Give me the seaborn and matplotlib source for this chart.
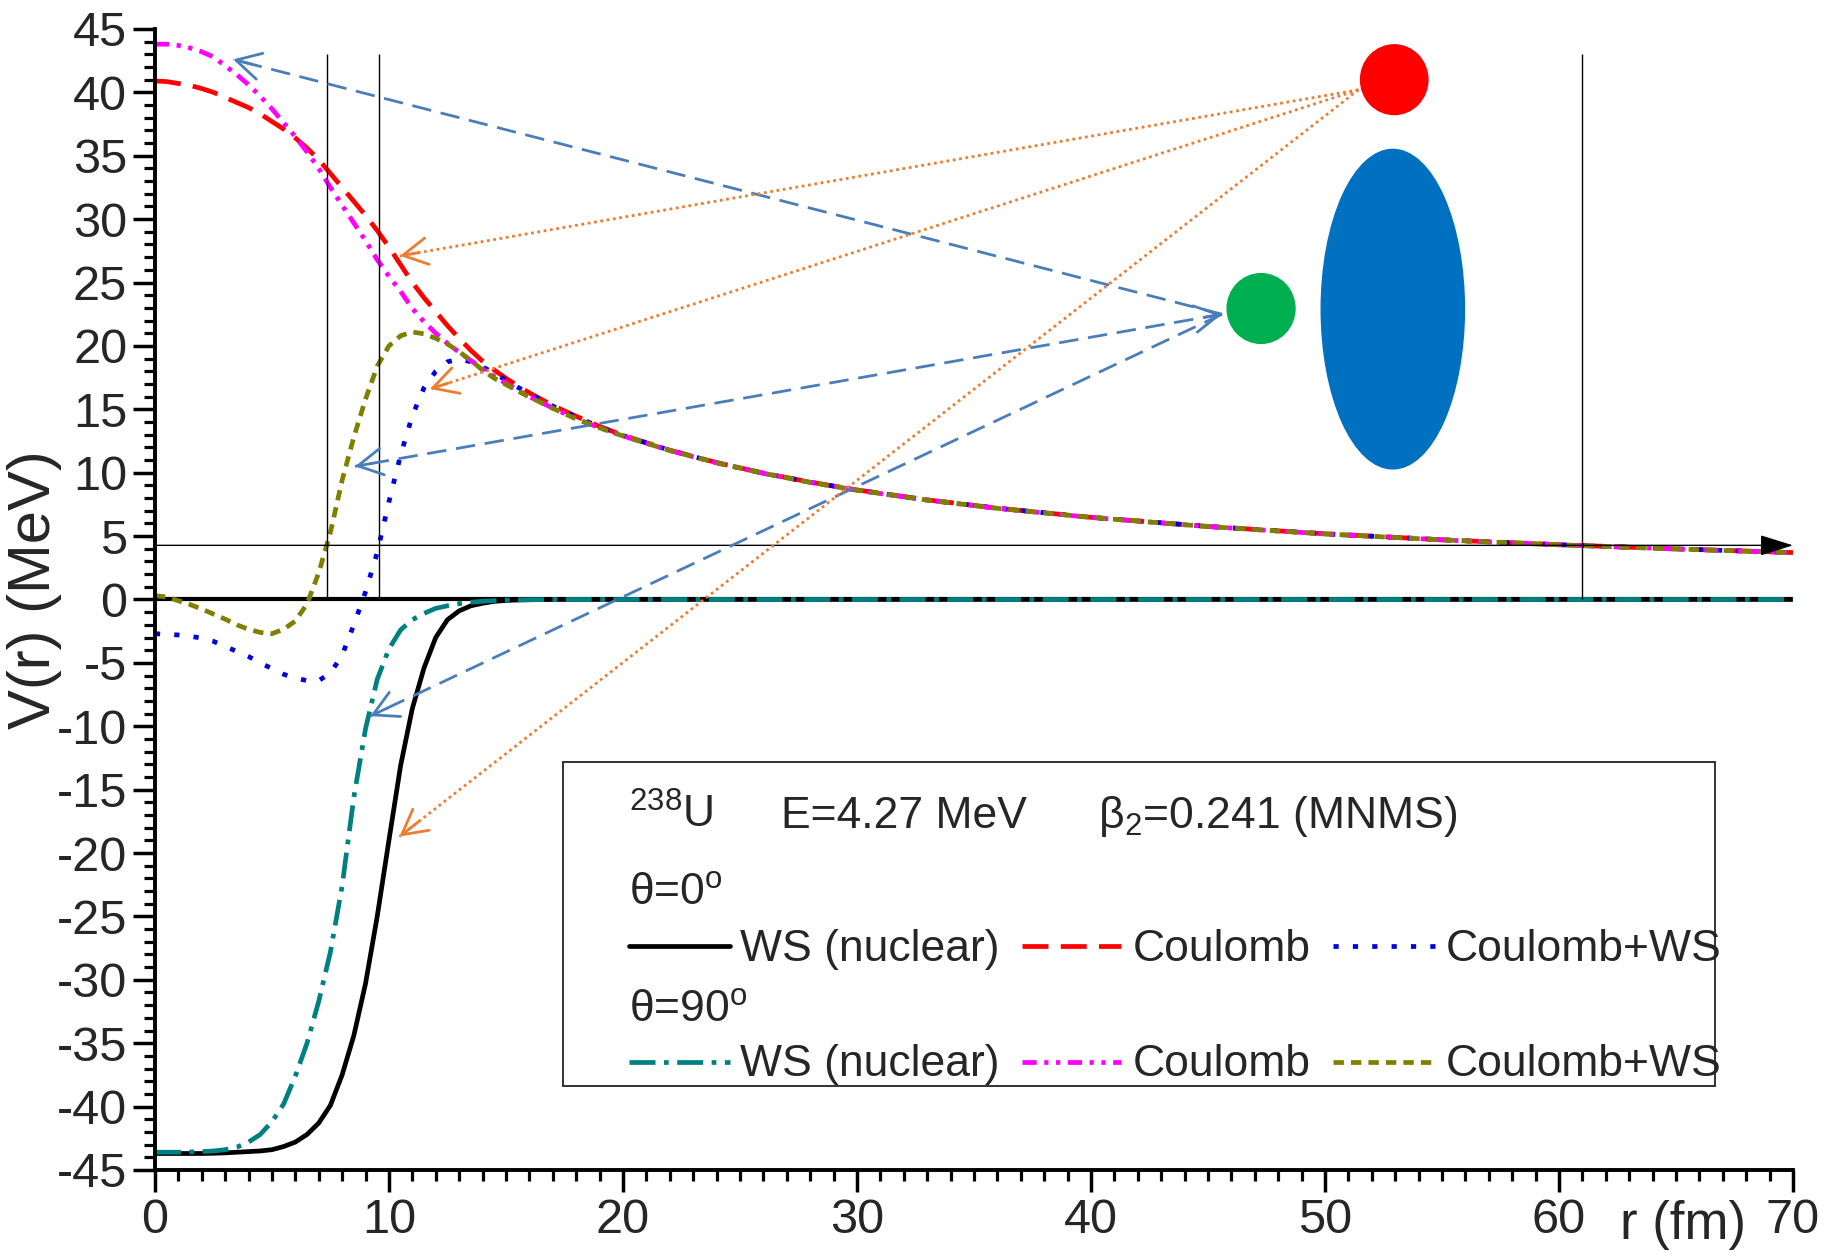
import matplotlib
matplotlib.use("Agg")
import matplotlib.pyplot as plt
import matplotlib.transforms as mtransforms
from matplotlib.patches import Ellipse, Rectangle
from matplotlib.lines import Line2D
from matplotlib.ticker import MultipleLocator
import seaborn as sns

# ---------------------------------------------------------------------------
# Radial grid (fm) and potentials (MeV) for alpha + daughter of 238U
# ---------------------------------------------------------------------------
r_fm = [0, 0.5, 1, 1.5, 2, 2.5, 3, 3.5, 4, 4.5, 5, 5.5, 6, 6.5, 7, 7.5, 8,
        8.5, 9, 9.5, 10, 10.5, 11, 11.5, 12, 12.5, 13, 13.5, 14, 14.5, 15,
        15.5, 16, 17, 18, 19, 20, 22, 24, 26, 28, 30, 33, 36, 40, 45, 50,
        55, 60, 65, 70]

# theta = 0 deg
ws_nuclear_0 = [-43.7, -43.7, -43.7, -43.7, -43.7, -43.68, -43.65, -43.6,
                -43.55, -43.5, -43.4, -43.15, -42.8, -42.2, -41.3, -39.9,
                -37.5, -34.4, -30.3, -25.0, -19.0, -13.1, -8.6, -5.4, -3.0,
                -1.6, -0.9, -0.5, -0.3, -0.15, -0.08, -0.04, -0.02,
                0, 0, 0, 0, 0, 0, 0, 0, 0, 0, 0, 0, 0, 0, 0, 0, 0, 0]
coulomb_0 = [40.9, 40.85, 40.7, 40.55, 40.3, 40.0, 39.6, 39.2, 38.8, 38.3,
             37.7, 37.1, 36.4, 35.6, 34.7, 33.6, 32.5, 31.4, 30.3, 29.1,
             27.8, 26.4, 25.0, 23.8, 22.7, 21.6, 20.6, 19.65, 18.8, 18.1,
             17.45, 16.85, 16.3, 15.3, 14.45, 13.65, 12.95, 11.78, 10.8,
             9.97, 9.26, 8.64, 7.86, 7.2, 6.48, 5.76, 5.18, 4.71, 4.32,
             3.99, 3.70]
coulomb_ws_0 = [-2.7, -2.75, -2.8, -2.9, -3.05, -3.3, -3.7, -4.1, -4.5, -5.0,
                -5.45, -5.9, -6.2, -6.4, -6.4, -5.8, -4.4, -2.0, 0.6, 3.7,
                7.7, 11.4, 14.5, 16.7, 18.0, 18.75, 18.95, 18.75, 18.35,
                17.85, 17.3, 16.75, 16.22, 15.25, 14.4, 13.62, 12.93, 11.77,
                10.79, 9.96, 9.25, 8.63, 7.85, 7.2, 6.48, 5.76, 5.18, 4.71,
                4.32, 3.99, 3.70]

# theta = 90 deg
ws_nuclear_90 = [-43.6, -43.6, -43.6, -43.58, -43.55, -43.5, -43.4, -43.2,
                 -42.8, -42.2, -41.2, -39.8, -37.6, -35.0, -31.7, -27.8,
                 -22.6, -15.6, -10.2, -6.3, -3.9, -2.4, -1.6, -1.1, -0.7,
                 -0.5, -0.33, -0.22, -0.14, -0.09, -0.05, -0.03, -0.02,
                 0, 0, 0, 0, 0, 0, 0, 0, 0, 0, 0, 0, 0, 0, 0, 0, 0, 0]
coulomb_90 = [43.8, 43.8, 43.7, 43.5, 43.2, 42.8, 42.1, 41.4, 40.6, 39.7,
              38.7, 37.6, 36.5, 35.3, 34.0, 32.5, 31.1, 29.7, 28.3, 26.8,
              25.5, 24.3, 22.95, 21.9, 21.0, 20.2, 19.5, 18.85, 18.2, 17.6,
              17.05, 16.5, 16.0, 15.1, 14.25, 13.55, 12.9, 11.75, 10.78,
              9.95, 9.24, 8.62, 7.84, 7.19, 6.47, 5.75, 5.17, 4.70, 4.31,
              3.98, 3.70]
coulomb_ws_90 = [0.3, 0.2, -0.1, -0.4, -0.75, -1.15, -1.55, -2.0, -2.35,
                 -2.6, -2.7, -2.35, -1.7, -0.35, 2.1, 5.3, 9.4, 12.8, 15.8,
                 18.4, 20.0, 20.8, 21.1, 20.95, 20.6, 20.15, 19.55, 18.85,
                 18.1, 17.45, 16.95, 16.45, 15.97, 15.08, 14.24, 13.54, 12.9,
                 11.75, 10.78, 9.95, 9.24, 8.62, 7.84, 7.19, 6.47, 5.75,
                 5.17, 4.70, 4.31, 3.98, 3.70]

# Alpha energy and classical turning points (fm)
q_alpha = 4.27
turning_points = [7.34, 9.57, 61.0]

# ---------------------------------------------------------------------------
# Styling
# ---------------------------------------------------------------------------
sns.set_style("ticks")
plt.rcParams["font.family"] = ["Liberation Sans", "DejaVu Sans"]
plt.rcParams["mathtext.fontset"] = "custom"
plt.rcParams["mathtext.rm"] = "Liberation Sans"
plt.rcParams["mathtext.it"] = "Liberation Sans:italic"
plt.rcParams["mathtext.default"] = "regular"
plt.rcParams["axes.unicode_minus"] = False

LW = 3.4
series = [
    (ws_nuclear_0, "black", "-"),
    (ws_nuclear_90, "#008080", (0, (5.5, 1.8, 1, 1.8))),
    (coulomb_0, "#FF0000", (0, (5.5, 2.6))),
    (coulomb_ws_0, "#0000E0", (0, (1.1, 3.0))),
    (coulomb_90, "#FF00FF", (0, (3.0, 1.6, 0.9, 1.6, 0.9, 1.6))),
    (coulomb_ws_90, "#808000", (0, (2.2, 1.5))),
]

fig = plt.figure(figsize=(18.29, 12.54), dpi=100)
ax = fig.add_axes([0.0847, 0.067, 0.8956, 0.9099])

# zero reference line
ax.axhline(0, color="black", lw=3.0, zorder=1.5)

for values, color, ls in series:
    sns.lineplot(x=r_fm, y=values, ax=ax, color=color, linestyle=ls, lw=LW,
                 estimator=None, zorder=2)

# energy level with arrow and turning points
ax.annotate("", xy=(70, q_alpha), xytext=(0, q_alpha),
            arrowprops=dict(arrowstyle="-|>,head_length=0.8,head_width=0.25",
                            mutation_scale=26, lw=1.0, color="black",
                            shrinkA=0, shrinkB=0),
            annotation_clip=False, zorder=3)
ax.vlines(turning_points, 0, 43, color="black", lw=1.0, zorder=3)

# nuclei sketches
ax.add_patch(Ellipse((52.96, 41.0), 2.88, 5.5, color="#FF0000", zorder=4))
ax.add_patch(Ellipse((47.27, 22.95), 2.9, 5.5, color="#00B050", zorder=4))
ax.add_patch(Ellipse((52.9, 22.9), 6.12, 25.2, color="#0070C0", zorder=4))


def arrow_head(tip, frm, color, lw):
    back = (tip[0] + 0.02 * (frm[0] - tip[0]), tip[1] + 0.02 * (frm[1] - tip[1]))
    ax.annotate("", xy=tip, xytext=back,
                arrowprops=dict(arrowstyle="->,head_length=0.55,head_width=0.3",
                                mutation_scale=32, lw=lw, color=color,
                                shrinkA=0, shrinkB=0), zorder=3)


def pointer(src, tip, color, ls, lw, both=False):
    ax.plot([src[0], tip[0]], [src[1], tip[1]], color=color, ls=ls, lw=lw,
            zorder=3)
    arrow_head(tip, src, color, lw)
    if both:
        arrow_head(src, tip, color, lw)


green_src = (45.6, 22.5)
red_src = (51.43, 40.2)
for tip, both in [((3.34, 42.6), False), ((8.55, 10.5), True),
                  ((9.2, -9.2), False)]:
    pointer(green_src, tip, "#4A7EBB", (0, (7, 3.5)), 2.0, both=both)
for tip in [(10.47, 27.1), (11.75, 16.6), (10.45, -18.7)]:
    pointer(red_src, tip, "#ED7D31", (0, (1, 1.3)), 2.0)

# ---------------------------------------------------------------------------
# Legend box
# ---------------------------------------------------------------------------
ax.add_patch(Rectangle((17.45, -38.4), 49.2, 25.6, facecolor="white",
                       edgecolor="#222222", lw=1.3, zorder=5))
FS = 32
txt = dict(fontsize=FS, va="baseline", ha="left", zorder=6)
ax.text(20.25, -18.0, "$^{238}$U", **txt)
ax.text(26.75, -18.0, "E=4.27 MeV", **txt)
ax.text(40.3, -18.0, "β$_2$=0.241 (MNMS)", **txt)
ax.text(20.25, -24.1, "θ=0$^{o}$", **txt)
ax.text(20.25, -33.3, "θ=90$^{o}$", **txt)

rows = [(-27.3, -28.5, series[0], series[2], series[3]),
        (-36.5, -37.6, series[1], series[4], series[5])]
for y_line, y_text, s1, s2, s3 in rows:
    for (x0, x1, xt, label), (_, color, ls) in zip(
            [(20.26, 24.57, 25.0, "WS (nuclear)"),
             (37.05, 41.3, 41.8, "Coulomb"),
             (50.35, 54.69, 55.18, "Coulomb+WS")], [s1, s2, s3]):
        ax.add_line(Line2D([x0, x1], [y_line, y_line], color=color,
                           linestyle=ls, lw=LW, zorder=6))
        ax.text(xt, y_text, label, **txt)

# ---------------------------------------------------------------------------
# Axes
# ---------------------------------------------------------------------------
ax.set_xlim(0, 70)
ax.set_ylim(-45, 45)
ax.xaxis.set_major_locator(MultipleLocator(10))
ax.xaxis.set_minor_locator(MultipleLocator(1))
ax.yaxis.set_major_locator(MultipleLocator(5))
ax.yaxis.set_minor_locator(MultipleLocator(1))
ax.tick_params(which="major", direction="out", length=16, width=2.5,
               labelsize=35, pad=4, color="black")
ax.tick_params(which="minor", direction="out", length=8, width=2.3,
               color="black")
sns.despine(ax=ax)
for side in ["left", "bottom"]:
    ax.spines[side].set_linewidth(2.8)
    ax.spines[side].set_color("black")

ax.set_xlabel("")
ax.set_ylabel("V(r) (MeV)", fontsize=43)
ax.yaxis.set_label_coords(-0.0735, 0.509)
ax.yaxis.label.set_va("center")

trans = mtransforms.blended_transform_factory(ax.transData, ax.transAxes)
ax.text(65.3, -0.048, "r (fm)", transform=trans, ha="center", va="center",
        fontsize=38)

fig.savefig("out.png", dpi=100, facecolor="white")
